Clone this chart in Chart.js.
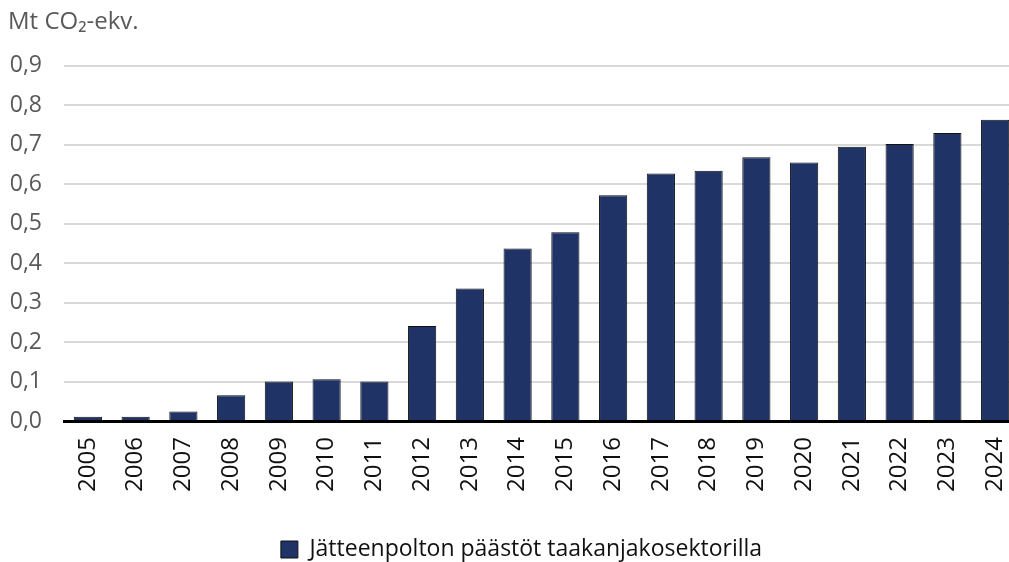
<!DOCTYPE html>
<html>
<head>
<meta charset="utf-8">
<script src="https://cdn.jsdelivr.net/npm/chart.js@4/dist/chart.umd.min.js"></script>
<style>
  html, body { margin: 0; padding: 0; background: #ffffff; overflow: hidden; }
  #wrap { width: 1019px; height: 562px; }
</style>
</head>
<body>
<div id="wrap"><canvas id="c" width="1019" height="562"></canvas></div>
<script>
const years = ['2005','2006','2007','2008','2009','2010','2011','2012','2013','2014','2015','2016','2017','2018','2019','2020','2021','2022','2023','2024'];
const emissions = [0.011, 0.011, 0.024, 0.065, 0.100, 0.106, 0.100, 0.241, 0.336, 0.437, 0.478, 0.572, 0.627, 0.634, 0.668, 0.655, 0.695, 0.702, 0.730, 0.763];
const yTickLabels = ['0,0','0,1','0,2','0,3','0,4','0,5','0,6','0,7','0,8','0,9'];
const seriesName = 'Jätteenpolton päästöt taakanjakosektorilla';
const unitTitle = 'Mt CO₂-ekv.';

const FONT = "'Open Sans', 'DejaVu Sans', sans-serif";

const legendShift = {
  id: 'legendShift',
  afterLayout(chart) {
    if (chart.legend) {
      chart.legend.left += 8;
      chart.legend.right += 8;
    }
  }
};

new Chart(document.getElementById('c'), {
  type: 'bar',
  data: {
    labels: years,
    datasets: [{
      label: seriesName,
      data: emissions,
      backgroundColor: '#1f3366',
      borderColor: '#111111',
      borderWidth: 1,
      barPercentage: 0.59,
      categoryPercentage: 1.0
    }]
  },
  plugins: [legendShift],
  options: {
    responsive: false,
    animation: false,
    layout: { padding: { left: 8, right: 0, top: 0, bottom: -9 } },
    plugins: {
      title: {
        display: true,
        text: unitTitle,
        align: 'start',
        color: '#595959',
        font: { family: FONT, size: 24, weight: 'normal' },
        padding: { top: 8, bottom: 29 }
      },
      legend: {
        display: true,
        position: 'bottom',
        labels: {
          color: '#111111',
          font: { family: FONT, size: 23 },
          boxWidth: 17,
          boxHeight: 17,
          padding: 0
        }
      },
      tooltip: { enabled: false }
    },
    scales: {
      x: {
        z: 1,
        afterFit: (scale) => { scale.height = 117; scale.paddingLeft = 0; scale.paddingRight = 0; },
        grid: { display: false },
        border: { display: true, color: '#000000', width: 3 },
        ticks: {
          color: '#111111',
          font: { family: FONT, size: 24 },
          minRotation: 90,
          maxRotation: 90,
          autoSkip: false,
          padding: 8
        }
      },
      y: {
        min: 0,
        max: 0.9,
        afterFit: (scale) => { scale.width = 56; },
        border: { display: false },
        grid: { color: '#d9d9d9', lineWidth: 2, drawTicks: false },
        ticks: {
          stepSize: 0.1,
          color: '#595959',
          font: { family: FONT, size: 23 },
          padding: 22,
          callback: (v, i) => yTickLabels[i]
        }
      }
    }
  }
});
</script>
</body>
</html>
